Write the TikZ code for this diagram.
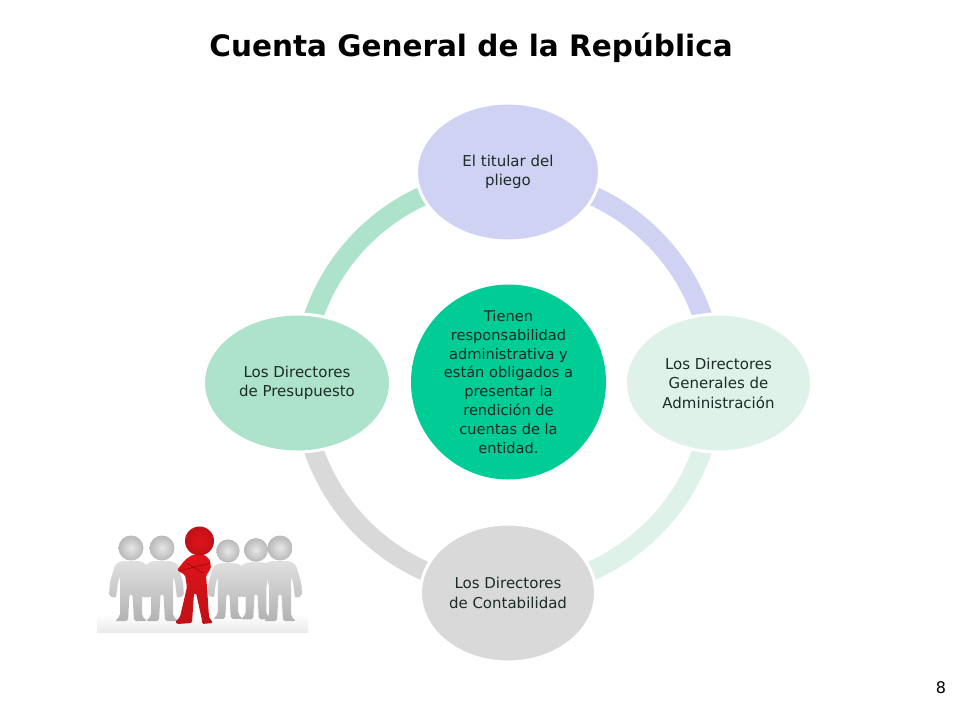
\documentclass[tikz,border=0pt]{standalone}
\usepackage{fontspec}
\setmainfont{DejaVu Sans}
\usetikzlibrary{shapes.geometric,backgrounds,calc}
\definecolor{cTop}{HTML}{D0D2F4}
\definecolor{cRight}{HTML}{DFF2E9}
\definecolor{cBottom}{HTML}{D9D9D9}
\definecolor{cLeft}{HTML}{ADE3CA}
\definecolor{cCenter}{HTML}{00CC96}
\definecolor{ink}{HTML}{1C2B26}
\definecolor{peepGrey}{HTML}{D2D2D2}
\definecolor{peepRed}{HTML}{E0141A}
\tikzset{
  oval/.style={ellipse,minimum height=138pt,inner sep=0pt,align=center,
    text=ink,draw=white,line width=3pt,font=\fontsize{15}{19.5}\selectfont},
  hubdisc/.style={circle,minimum size=195pt,inner sep=0pt,align=center,fill=cCenter,text=ink,
    font=\fontsize{14.6}{18.9}\selectfont},
  band/.style={line width=19.5pt,line cap=butt}
}
\newcommand{\peep}[3]{% x, y of the head, scale
  \begin{scope}[shift={(#1,#2)},scale=#3]
    \shade[top color=peepGrey!70!white,bottom color=peepGrey!85!black,rounded corners=2pt]
      (-10,13) -- (10,13) -- (16,17) -- (21,34) -- (22,48) -- (15,50) -- (13,34) -- (11,28)
      -- (11,44) -- (11,68) -- (16,73) -- (3,73) -- (1.5,46) -- (-1.5,46) -- (-3,73) -- (-16,73)
      -- (-11,68) -- (-11,44) -- (-11,28) -- (-13,34) -- (-15,50) -- (-22,48) -- (-21,34) -- (-16,17) -- cycle;
    \shade[inner color=peepGrey!55!white,outer color=peepGrey!88!black] (0,0) circle (12.5);
  \end{scope}}
\begin{document}
\begin{tikzpicture}[x=1pt,y=-1pt]
\useasboundingbox (0,0) rectangle (960,720);
\node[font=\fontsize{29.5}{34}\selectfont\bfseries,text=black] (title) at (471,47.5) {Cuenta General de la República};
\node[oval,fill=cTop,minimum width=183pt] (top) at (508,172) {El titular del\\pliego};
\node[oval,fill=cRight,minimum width=186pt] (right) at (718.5,383) {Los Directores\\Generales de\\Administración};
\node[oval,fill=cBottom,minimum width=175pt] (bottom) at (508,593) {Los Directores\\de Contabilidad};
\node[oval,fill=cLeft,minimum width=187pt] (left) at (297,383) {Los Directores\\de Presupuesto};
\node[hubdisc] (hub) at (508.5,382) {Tienen\\responsabilidad\\administrativa y\\están obligados  a\\presentar la\\rendición de\\cuentas de la\\entidad.};
\node[font=\fontsize{16}{18}\selectfont,text=black] (page) at (941,688) {8};
\coordinate (ringT) at ($(top.center)+(0,5.5)$);
\coordinate (ringR) at ($(right.center)+(-5,0)$);
\coordinate (ringB) at ($(bottom.center)+(0,-4.5)$);
\coordinate (ringL) at ($(left.center)+(5.5,0)$);
\begin{scope}[on background layer]
  \fill[white] (0,0) rectangle (960,720);
  \draw[band,cTop] (ringT) .. controls +(113.5,0) and +(0,-113.5) .. (ringR);
  \draw[band,cRight] (ringR) .. controls +(0,113.5) and +(113.5,0) .. (ringB);
  \draw[band,cBottom] (ringB) .. controls +(-113.5,0) and +(0,113.5) .. (ringL);
  \draw[band,cLeft] (ringL) .. controls +(0,-113.5) and +(-113.5,0) .. (ringT);
\end{scope}
% group of figures
\shade[top color=white,bottom color=black!8] (97,614) rectangle (308,632);
\peep{131}{548}{1}
\peep{162}{548}{1}
\peep{228}{551}{.93}
\peep{256}{550}{.95}
\peep{280}{548}{1}
% red figure, arms crossed
\shade[top color=peepRed,bottom color=peepRed!85!black,rounded corners=1.5pt]
  (192,555) -- (205,555) -- (210,560) -- (211,568) -- (206,576) -- (207,587) -- (209,617)
  -- (213,623) -- (202,624) -- (202,620) -- (196,593) -- (194,593) -- (192,623) -- (177,624)
  -- (175,622) -- (180,617) -- (187,587) -- (185,575) -- (177,570) -- (185,560) -- cycle;
\shade[inner color=peepRed,outer color=peepRed!85!black] (199.5,541) circle (14.5);
\draw[peepRed!70!black,line width=.8pt] (179,571) -- (210,563);
\draw[peepRed!70!black,line width=.8pt] (187,563) -- (203,573);
\end{tikzpicture}
\end{document}
